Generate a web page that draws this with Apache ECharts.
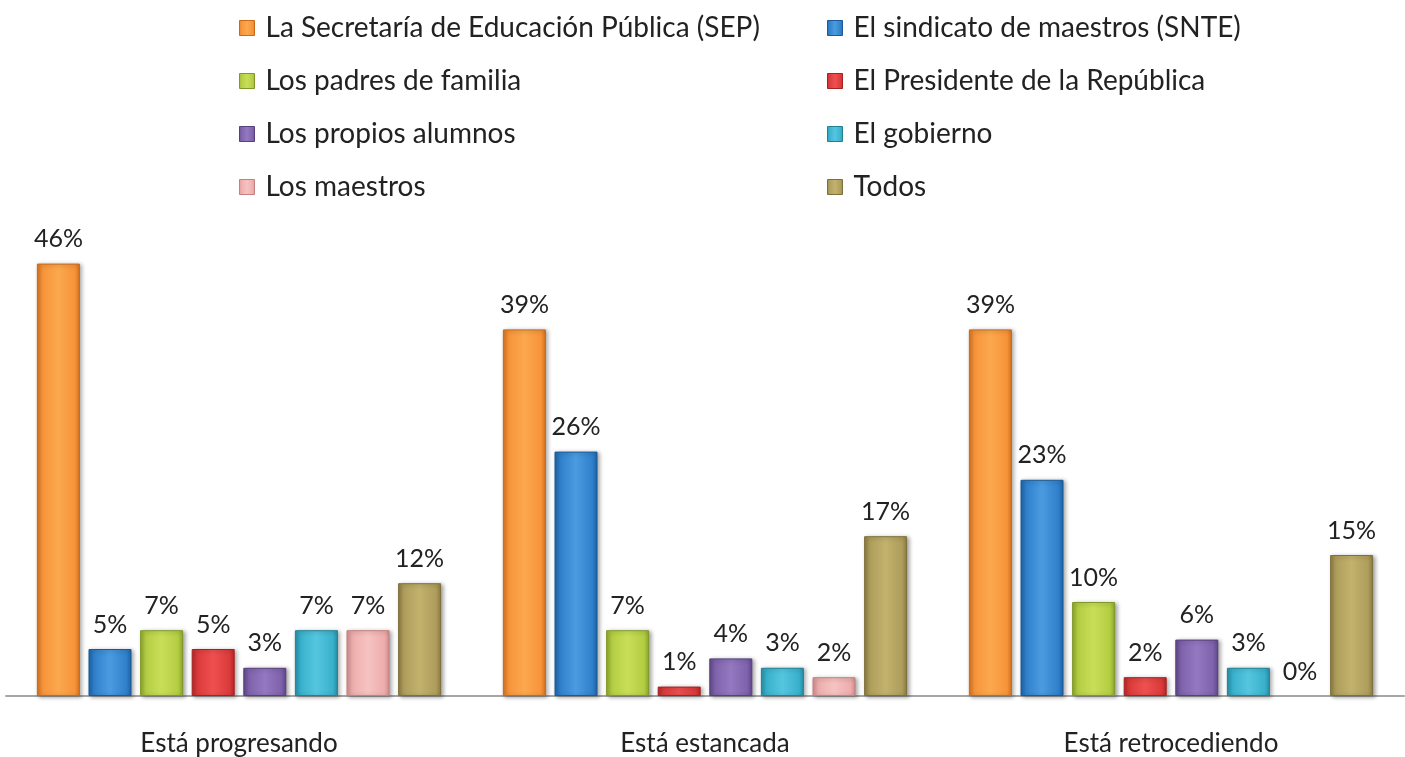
<!DOCTYPE html>
<html>
<head>
<meta charset="utf-8">
<script src="https://cdn.jsdelivr.net/npm/echarts@6/dist/echarts.min.js"></script>
<style>
html,body{margin:0;padding:0;background:#fff;}
#chart{width:1405px;height:757px;}
</style>
</head>
<body>
<div id="chart"></div>
<script>
var categories = ['Está progresando', 'Está estancada', 'Está retrocediendo'];
var seriesNames = [
  'La Secretaría de Educación Pública (SEP)',
  'El sindicato de maestros (SNTE)',
  'Los padres de familia',
  'El Presidente de la República',
  'Los propios alumnos',
  'El gobierno',
  'Los maestros',
  'Todos'
];
var sepValues = [46, 39, 39];
var snteValues = [5, 26, 23];
var padresValues = [7, 7, 10];
var presidenteValues = [5, 1, 2];
var alumnosValues = [3, 4, 6];
var gobiernoValues = [7, 3, 3];
var maestrosValues = [7, 2, 0];
var todosValues = [12, 17, 15];
var allValues = [sepValues, snteValues, padresValues, presidenteValues, alumnosValues, gobiernoValues, maestrosValues, todosValues];

var palette = [
  {light:'#FBA84E', mid:'#F7943A', dark:'#D9731E', border:'#C8681A'},
  {light:'#4A9BE0', mid:'#2F80CA', dark:'#1E63A8', border:'#1B5A98'},
  {light:'#C9DE58', mid:'#B3CD42', dark:'#8EA82C', border:'#7F9828'},
  {light:'#EE5050', mid:'#DC3A3A', dark:'#B82626', border:'#A62222'},
  {light:'#9478C0', mid:'#7E62AB', dark:'#61488C', border:'#56407D'},
  {light:'#55C6DF', mid:'#39B1CC', dark:'#2690A8', border:'#228196'},
  {light:'#F6C3C2', mid:'#EDADAC', dark:'#D48E8D', border:'#C58080'},
  {light:'#C2B26E', mid:'#AE9D5B', dark:'#8C7D42', border:'#7D703B'}
];

function grad(p) {
  return new echarts.graphic.LinearGradient(0, 0, 1, 0, [
    {offset: 0, color: p.dark},
    {offset: 0.12, color: p.mid},
    {offset: 0.5, color: p.light},
    {offset: 0.88, color: p.mid},
    {offset: 1, color: p.dark}
  ]);
}

var FONT = 'Lato, "Open Sans", sans-serif';

var series = seriesNames.map(function (name, i) {
  return {
    name: name,
    type: 'bar',
    data: allValues[i].map(function (v) {
      return v === 0 ? {value: v, itemStyle: {borderWidth: 0, shadowBlur: 0, shadowColor: 'transparent', color: 'transparent', borderColor: 'transparent'}} : v;
    }),
    barWidth: 43,
    barGap: '20%',
    itemStyle: {
      color: grad(palette[i]),
      borderColor: palette[i].border,
      borderWidth: 1,
      shadowColor: 'rgba(0,0,0,0.35)',
      shadowBlur: 4,
      shadowOffsetX: 2,
      shadowOffsetY: 1
    },
    label: {
      show: true,
      position: 'top',
      distance: 12,
      formatter: '{c}%',
      fontFamily: FONT,
      fontSize: 25,
      color: '#222'
    }
  };
});

function makeLegend(names, left) {
  return {
    data: names,
    orient: 'vertical',
    left: left,
    top: 12,
    padding: 0,
    icon: 'rect',
    itemWidth: 15,
    itemHeight: 15,
    itemGap: 21,
    itemStyle: {borderWidth: 1, shadowBlur: 0, shadowOffsetX: 0, shadowOffsetY: 0},
    textStyle: {fontFamily: FONT, fontSize: 28, color: '#222', lineHeight: 32, padding: [0, 0, 0, 6]}
  };
}

var chart = echarts.init(document.getElementById('chart'));
chart.setOption({
  animation: false,
  backgroundColor: '#fff',
  legend: [
    makeLegend([seriesNames[0], seriesNames[2], seriesNames[4], seriesNames[6]], 239),
    makeLegend([seriesNames[1], seriesNames[3], seriesNames[5], seriesNames[7]], 827)
  ],
  grid: {left: 6, right: 1, top: 226, bottom: 60},
  xAxis: {
    type: 'category',
    data: categories,
    axisLine: {lineStyle: {color: '#A6A6A6', width: 2}},
    axisTick: {show: false},
    axisLabel: {margin: 35, fontFamily: FONT, fontSize: 26, color: '#222'}
  },
  yAxis: {
    type: 'value',
    min: 0,
    max: 50,
    show: false,
    splitLine: {show: false}
  },
  series: series
});
</script>
</body>
</html>
